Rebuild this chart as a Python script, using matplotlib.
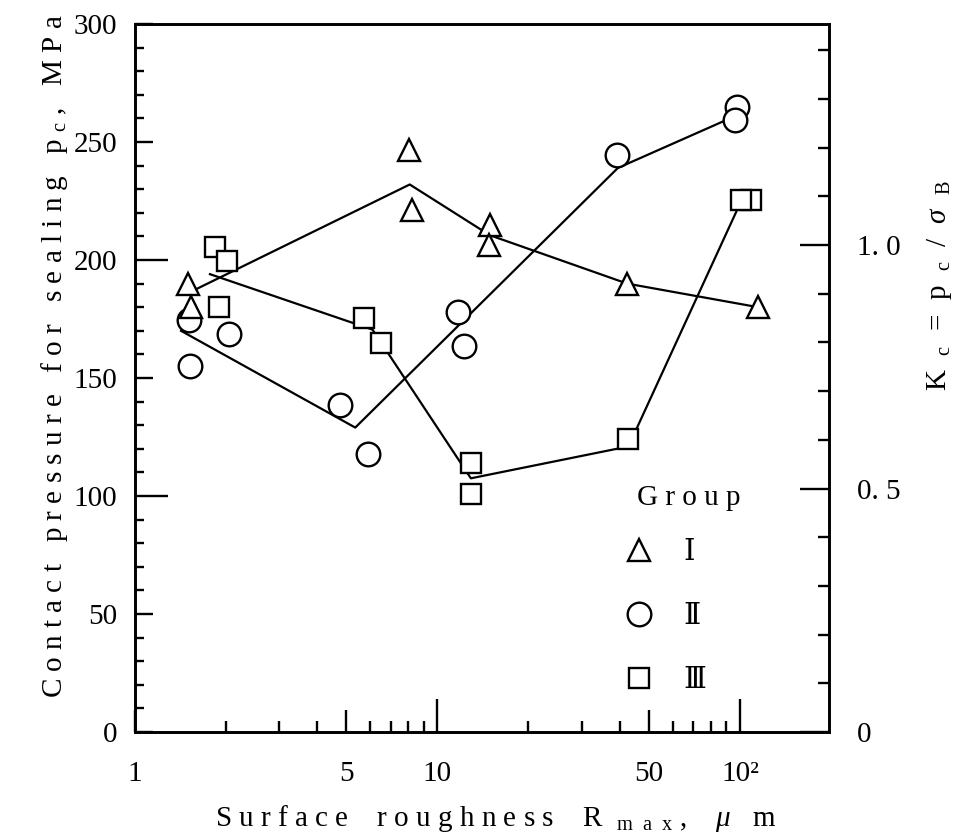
import matplotlib
matplotlib.use("Agg")
import matplotlib.pyplot as plt
from matplotlib.ticker import FixedLocator, FixedFormatter, NullFormatter

plt.rcParams['font.family'] = ['Liberation Serif', 'DejaVu Serif', 'Noto Sans CJK JP']
plt.rcParams['mathtext.fontset'] = 'custom'
plt.rcParams['mathtext.rm'] = 'Liberation Serif'
plt.rcParams['mathtext.it'] = 'Liberation Serif:italic'
plt.rcParams['mathtext.bf'] = 'Liberation Serif:bold'

# === data ===
# Group I (triangles)
g1_x = [1.50, 1.53, 8.05, 8.22, 14.9, 14.8, 42.4, 115]
g1_y = [190, 180, 246.5, 221, 215, 206.5, 190, 180]
g1_line_x = [1.5, 8.1, 14.9, 42.4, 115]
g1_line_y = [186, 232, 210.5, 190, 180]

# Group II (circles)
g2_x = [1.51, 1.52, 2.04, 4.75, 5.9, 11.7, 12.2, 39.1, 97.5, 96.5]
g2_y = [174.5, 155, 168.5, 138.5, 118, 178, 163.5, 244.5, 265, 259.5]
g2_line_x = [1.42, 5.35, 39.5, 96.5]
g2_line_y = [170, 129, 239, 261]

# Group III (squares)
g3_x = [1.84, 2.02, 1.89, 5.7, 6.5, 12.9, 12.9, 42.8, 109, 101]
g3_y = [205.5, 199.5, 180, 175.5, 165, 114, 101, 124, 225.5, 225.5]
g3_line_x = [1.77, 6.1, 12.9, 42.8, 101]
g3_line_y = [194, 170.5, 107.5, 121, 225]

group_labels = ['Ⅰ', 'Ⅱ', 'Ⅲ']

x_major = [1, 5, 10, 50, 100]
x_major_labels = ['1', '5', '10', '50', '10²']
x_minor = [2, 3, 4, 6, 7, 8, 9, 20, 30, 40, 60, 70, 80, 90]
y_major = [0, 50, 100, 150, 200, 250, 300]
y_minor = [v for v in range(0, 301, 10) if v % 50]
k_major = [0, 0.5, 1.0]
k_major_labels = ['0', '0. 5', '1. 0']
k_minor = [0.1, 0.2, 0.3, 0.4, 0.6, 0.7, 0.8, 0.9, 1.1, 1.2, 1.3, 1.4]


def spaced(text, gap='   '):
    # the original typesetting uses wide letter spacing
    return gap.join(' '.join(w) for w in text.split(' '))


fig = plt.figure(figsize=(9.62, 8.39), dpi=100)
ax = fig.add_axes([0.1403, 0.1275, 0.7214, 0.8439])
ax2 = ax.twinx()

LW = 1.6
mk = dict(linestyle='none', markerfacecolor='white', markeredgecolor='black',
          markeredgewidth=1.7, zorder=3)

ax.plot(g1_line_x, g1_line_y, color='black', lw=LW, zorder=2)
ax.plot(g2_line_x, g2_line_y, color='black', lw=LW, zorder=2)
ax.plot(g3_line_x, g3_line_y, color='black', lw=LW, zorder=2)

h2, = ax.plot(g2_x, g2_y, marker='o', markersize=17, **mk)
h3, = ax.plot(g3_x, g3_y, marker='s', markersize=15, **mk)
h1, = ax.plot(g1_x, g1_y, marker='^', markersize=16.5, **mk)

ax.set_xscale('log')
ax.set_xlim(1, 197)
ax.set_ylim(0, 300)
ax2.set_ylim(0, 1.454)

ax.xaxis.set_major_locator(FixedLocator(x_major))
ax.xaxis.set_major_formatter(FixedFormatter(x_major_labels))
ax.xaxis.set_minor_locator(FixedLocator(x_minor))
ax.xaxis.set_minor_formatter(NullFormatter())
ax.yaxis.set_major_locator(FixedLocator(y_major))
ax.yaxis.set_minor_locator(FixedLocator(y_minor))
ax2.yaxis.set_major_locator(FixedLocator(k_major))
ax2.yaxis.set_major_formatter(FixedFormatter(k_major_labels))
ax2.yaxis.set_minor_locator(FixedLocator(k_minor))

FS = 21
ax.tick_params(axis='x', which='major', direction='in', length=16, width=1.7,
               pad=21, labelsize=FS, top=False)
ax.tick_params(axis='x', which='minor', direction='in', length=8, width=1.7, top=False)
ax.tick_params(axis='y', which='major', direction='in', length=13, width=1.7,
               pad=13, labelsize=FS, right=False)
ax.tick_params(axis='y', which='minor', direction='in', length=6.5, width=1.7, right=False)
ax2.tick_params(axis='y', which='major', direction='in', length=21, width=1.7,
                pad=20, labelsize=FS)
ax2.tick_params(axis='y', which='minor', direction='in', length=8, width=1.7)

for t, v in zip(ax.xaxis.get_major_ticks(), x_major):
    if v in (10, 100):
        t.tick1line.set_markersize(24)
for t, v in zip(ax.yaxis.get_major_ticks(), y_major):
    if v in (100, 200):
        t.tick1line.set_markersize(24)

for a in (ax, ax2):
    for s in a.spines.values():
        s.set_linewidth(1.9)

fig.text(0.057, 0.575,
         spaced('Contact pressure for sealing p') + r' $_\mathregular{c}$ ,   ' + spaced('MPa'),
         rotation=90, ha='center', va='center', fontsize=FS)
fig.text(0.515, 0.024,
         spaced('Surface roughness R', '    ') + r'  $_\mathregular{m\ \ a\ \ x}$ ,    $\mathit{μ}$   m',
         ha='center', va='center', fontsize=FS)
fig.text(0.977, 0.66,
         r'K  $_\mathregular{c}$  =  p  $_\mathregular{c}$  /  $σ$  $_\mathregular{B}$',
         rotation=90, ha='center', va='center', fontsize=FS)

leg = ax.legend([h1, h2, h3], group_labels, loc='upper left',
                bbox_to_anchor=(0.703, 0.37), frameon=False, title=spaced('Group'),
                fontsize=FS, title_fontsize=FS, handlelength=0.14, handletextpad=1.45,
                labelspacing=1.28, borderpad=0, alignment='left', numpoints=1)
leg._legend_box.sep = 21

fig.savefig('out.png', dpi=100, facecolor='white')
